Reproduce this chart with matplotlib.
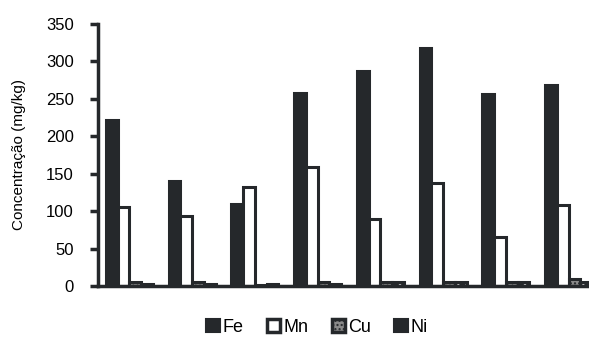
import numpy as np
import matplotlib.pyplot as plt
import matplotlib.patches as mpatches

plt.rcParams['font.family'] = ['Liberation Sans', 'DejaVu Sans']

elements = ['Fe', 'Mn', 'Cu', 'Ni']
fe = [222, 140, 110, 258, 287, 318, 256, 268]
mn = [106, 94, 132, 159, 89, 138, 65, 108]
cu = [5, 5, 1, 5, 5, 5, 5, 10]
ni = [3, 3, 3, 3, 5, 5, 5, 5]

dark = '#25282b'
fig = plt.figure(figsize=(5.89, 3.45), dpi=100)
ax = fig.add_axes([98 / 589, 59 / 345, 502 / 589, 262 / 345])

x = np.arange(len(fe))
w = 0.1875
ax.bar(x - 1.5 * w, fe, w, color=dark, edgecolor=dark, linewidth=2.2)
ax.bar(x - 0.5 * w, mn, w, color='white', edgecolor=dark, linewidth=2.2)
ax.bar(x + 0.5 * w, cu, w, color='#8a8a8a', edgecolor=dark, linewidth=2.2, hatch='....')
# Ni: dark face with white dots, dark outline drawn on top
ax.bar(x + 1.5 * w, ni, w, color=dark, edgecolor='white', linewidth=0, hatch='..')
ax.bar(x + 1.5 * w, ni, w, facecolor='none', edgecolor=dark, linewidth=2.2)

ax.set_xlim(-0.5, 7.5)
ax.set_ylim(0, 350)
ax.set_yticks(range(0, 351, 50))
ax.set_xticks([])
for s in ['top', 'right']:
    ax.spines[s].set_visible(False)
for s in ['left', 'bottom']:
    ax.spines[s].set_linewidth(2.5)
    ax.spines[s].set_color(dark)
ax.tick_params(axis='y', length=6, width=2.5, color=dark, labelsize=12, pad=11.5)
ax.set_ylabel('Concentração (mg/kg)', fontsize=11, labelpad=14)

leg_handles = [
    mpatches.Patch(facecolor=dark, edgecolor=dark, linewidth=1.5),
    mpatches.Patch(facecolor='white', edgecolor=dark, linewidth=2.5),
    mpatches.Patch(facecolor='#8a8a8a', edgecolor=dark, linewidth=2.5, hatch='....'),
    mpatches.Patch(facecolor=dark, edgecolor=dark, linewidth=1.5),
]
fig.legend(handles=leg_handles, labels=elements, loc='center', ncol=4,
           bbox_to_anchor=(0.538, 0.052), frameon=False, fontsize=13,
           handlelength=0.75, handleheight=0.75, handletextpad=0.15,
           columnspacing=1.3)

fig.savefig('out.png', dpi=100)
